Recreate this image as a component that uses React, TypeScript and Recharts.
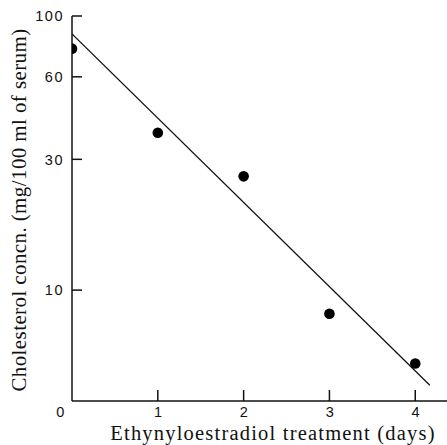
import { LineChart, Line, XAxis, YAxis } from 'recharts';

const days = [0, 1, 2, 3, 4];
const cholesterol = [76, 37.5, 26, 8.2, 5.4];

const fitDays = [0, 4.17];
const fitCholesterol = [86, 4.5];

const xTicks = [0, 1, 2, 3, 4];
const yTicks = [10, 30, 60, 100];

const points = days.map((d, i) => ({ day: d, conc: cholesterol[i] }));
const fit = fitDays.map((d, i) => ({ day: d, conc: fitCholesterol[i] }));

const tickFont = { fontFamily: 'Liberation Sans, Arial, sans-serif', fontSize: 14.5, letterSpacing: 1.5, fill: '#111' };
const titleFont = { fontFamily: 'Liberation Serif, Times New Roman, serif', fontSize: 21, fill: '#111' };

function DayTick(props: any) {
  const { x, y, payload } = props;
  const isOrigin = payload.value === 0;
  return (
    <g>
      {!isOrigin && <line x1={x} y1={y} x2={x} y2={y - 11} stroke="#111" strokeWidth={1.5} />}
      {/* origin label sits left of the corner */}
      <text x={isOrigin ? x - 11 : x + 1} y={y + 6} dy="0.71em" textAnchor="middle" {...tickFont}>
        {payload.value}
      </text>
    </g>
  );
}

function ConcTick(props: any) {
  const { x, y, payload } = props;
  return (
    <g>
      <line x1={x} y1={y} x2={x + 10} y2={y} stroke="#111" strokeWidth={1.5} />
      <text x={x - 8} y={y} dy="0.36em" textAnchor="end" {...tickFont}>
        {payload.value}
      </text>
    </g>
  );
}

export default function App() {
  return (
    <div style={{ position: 'absolute', left: 0, top: 0, background: '#fff' }}>
      <LineChart width={447} height={445} margin={{ top: 16, right: 0, left: 0, bottom: 0 }}>
        <XAxis
          dataKey="day"
          type="number"
          domain={[0, 4.37]}
          ticks={xTicks}
          allowDataOverflow
          height={44}
          stroke="#111"
          strokeWidth={1.5}
          tickLine={false}
          tickSize={0}
          tickMargin={0}
          tick={<DayTick />}
          label={{
            content: () => (
              <text x={273} y={440} textAnchor="middle" letterSpacing={1.2} {...titleFont} fontSize={20.5}>
                Ethynyloestradiol treatment (days)
              </text>
            ),
          }}
        />
        <YAxis
          dataKey="conc"
          scale="log"
          domain={[3.94, 100]}
          ticks={yTicks}
          allowDataOverflow
          width={72}
          stroke="#111"
          strokeWidth={1.5}
          tickLine={false}
          tickSize={0}
          tickMargin={0}
          tick={<ConcTick />}
          label={{
            content: () => (
              <text
                x={0}
                y={0}
                transform="translate(26 210) rotate(-90)"
                textAnchor="middle"
                letterSpacing={0.4}
                {...titleFont}
              >
                Cholesterol concn. (mg/100 ml of serum)
              </text>
            ),
          }}
        />
        <Line
          data={fit}
          dataKey="conc"
          stroke="#111"
          strokeWidth={1.3}
          dot={false}
          isAnimationActive={false}
        />
        <Line
          data={points}
          dataKey="conc"
          stroke="none"
          dot={{ r: 5.3, fill: '#000', stroke: 'none' }}
          isAnimationActive={false}
        />
      </LineChart>
    </div>
  );
}
